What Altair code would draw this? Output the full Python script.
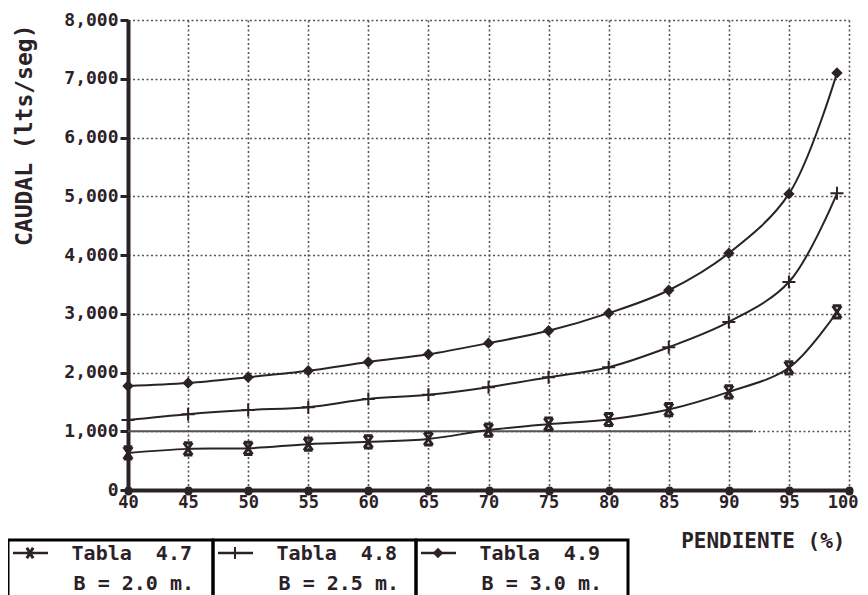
import altair as alt
import pandas as pd

# ---- data ----
pendiente = [40, 45, 50, 55, 60, 65, 70, 75, 80, 85, 90, 95, 99]
tabla_47 = [630, 700, 710, 780, 820, 870, 1020, 1120, 1200, 1370, 1670, 2080, 3030]
tabla_48 = [1190, 1290, 1360, 1410, 1550, 1620, 1750, 1920, 2090, 2430, 2860, 3540, 5050]
tabla_49 = [1770, 1820, 1920, 2030, 2180, 2310, 2500, 2710, 3010, 3400, 4030, 5040, 7100]
series_names = ["Tabla\u00a0\u00a04.7", "Tabla\u00a0\u00a04.8", "Tabla\u00a0\u00a04.9"]
series_b = ["B = 2.0 m.", "B = 2.5 m.", "B = 3.0 m."]
ref_x = [40, 92]
ref_y = [1000, 1000]
x_ticks = [40, 45, 50, 55, 60, 65, 70, 75, 80, 85, 90, 95, 100]
y_ticks = [0, 1000, 2000, 3000, 4000, 5000, 6000, 7000, 8000]

FONT = "DejaVu Sans Mono"
INK = "#2b2228"

rows = []
for name, vals in zip(series_names, [tabla_47, tabla_48, tabla_49]):
    for xv, yv in zip(pendiente, vals):
        rows.append({"serie": name, "x": xv, "y": yv})
df = pd.DataFrame(rows)
ref_df = pd.DataFrame({"x": ref_x, "y": ref_y})
dummy = pd.DataFrame({"a": [0]})

xs = alt.Scale(domain=[40, 100], nice=False, zero=False)
ys = alt.Scale(domain=[0, 8000], nice=False)

x_axis = alt.Axis(
    values=x_ticks, title="PENDIENTE (%)", grid=True,
    gridDash=[2, 2.5], gridColor="#555", gridWidth=1.6,
    domainColor=INK, domainWidth=4, tickColor=INK, tickWidth=8, tickSize=1,
    tickCap="round", labelFont=FONT, labelFontSize=17, labelFontWeight="bold",
    labelColor=INK, labelPadding=3,
    labelAlign={"condition": {"test": "datum.value == 100", "value": "right"}, "value": "center"},
    labelOffset={"condition": {"test": "datum.value == 100", "value": 9}, "value": 0},
    titleFont=FONT, titleFontSize=21,
    titleFontWeight="bold", titleColor=INK, titleX=717, titleY=51,
    titleAlign="right", titleBaseline="middle", labelFlush=False,
)
y_axis = alt.Axis(
    values=y_ticks, format=",d", title="CAUDAL (lts/seg)", grid=True,
    gridDash=[2, 2.5], gridColor="#555", gridWidth=1.6,
    domainColor=INK, domainWidth=4, tickColor=INK, tickWidth=3, tickSize=8,
    labelFont=FONT, labelFontSize=18, labelFontWeight="bold", labelColor=INK,
    labelPadding=2, titleFont=FONT, titleFontSize=23, titleFontWeight="bold",
    titleColor=INK, titleX=-104, titleY=4, titleAngle=270, titleAlign="right",
    titleBaseline="middle", labelFlush=False,
)

base = alt.Chart(df)
lines = base.mark_line(interpolate="catmull-rom", color=INK, strokeWidth=2).encode(
    x=alt.X("x:Q", scale=xs, axis=x_axis),
    y=alt.Y("y:Q", scale=ys, axis=y_axis),
    detail="serie:N",
)

SH_47 = "M-0.7,-1L0.7,-1M-0.7,1L0.7,1M-0.7,-1L0.7,1M0.7,-1L-0.7,1"
SH_47_LEG = "M-0.6,-1L0.6,1M-0.6,1L0.6,-1"
SH_48 = "M-1,0L1,0M0,-1L0,1"

p47 = base.transform_filter(alt.datum.serie == series_names[0]).mark_point(
    shape=SH_47, size=150, filled=False, stroke=INK, strokeWidth=3, opacity=1
).encode(x=alt.X("x:Q", scale=xs), y=alt.Y("y:Q", scale=ys))
p48 = base.transform_filter(alt.datum.serie == series_names[1]).mark_point(
    shape=SH_48, size=170, filled=False, stroke=INK, strokeWidth=2, opacity=1
).encode(x=alt.X("x:Q", scale=xs), y=alt.Y("y:Q", scale=ys))
p49 = base.transform_filter(alt.datum.serie == series_names[2]).mark_point(
    shape="diamond", size=130, filled=True, color=INK, opacity=1
).encode(x=alt.X("x:Q", scale=xs), y=alt.Y("y:Q", scale=ys))

ref = alt.Chart(ref_df).mark_line(color="#555", strokeWidth=1.8).encode(
    x=alt.X("x:Q", scale=xs), y=alt.Y("y:Q", scale=ys)
)

# ---- boxed legend below the plot ----
legend_layers = []
box_left = [-120, 85, 288]
box_right = [85, 288, 500]
shapes_leg = [
    dict(shape=SH_47_LEG, size=110, filled=False, stroke=INK, strokeWidth=3),
    dict(shape=SH_48, size=150, filled=False, stroke=INK, strokeWidth=2),
    dict(shape="diamond", size=110, filled=True, color=INK),
]
for i in range(3):
    L, R = box_left[i], box_right[i]
    d = alt.Chart(dummy)
    legend_layers.append(
        d.mark_rect(fill=None, stroke="black", strokeWidth=3).encode(
            x=alt.value(L), x2=alt.value(R), y=alt.value(520), y2=alt.value(600)
        )
    )
    legend_layers.append(
        d.mark_rule(color=INK, strokeWidth=2.5).encode(
            x=alt.value(L + 5), x2=alt.value(L + 40), y=alt.value(533)
        )
    )
    legend_layers.append(
        d.mark_point(opacity=1, **shapes_leg[i]).encode(
            x=alt.value(L + 22), y=alt.value(533)
        )
    )
    legend_layers.append(
        d.mark_text(font=FONT, fontSize=20, fontWeight="bold", color=INK,
                    align="right", baseline="alphabetic").encode(
            x=alt.value(L + 184), y=alt.value(540), text=alt.value(series_names[i])
        )
    )
    legend_layers.append(
        d.mark_text(font=FONT, fontSize=20, fontWeight="bold", color=INK,
                    align="right", baseline="alphabetic").encode(
            x=alt.value(L + 186), y=alt.value(570), text=alt.value(series_b[i])
        )
    )

chart = alt.layer(ref, lines, p47, p48, p49, *legend_layers).properties(
    width=721, height=470,
    autosize=alt.AutoSizeParams(type="none"),
    padding={"left": 120, "top": 12, "right": 11, "bottom": 110},
    background="white",
).configure_view(stroke=None)

chart.save("out.html", embed_options={"renderer": "svg", "actions": False})
